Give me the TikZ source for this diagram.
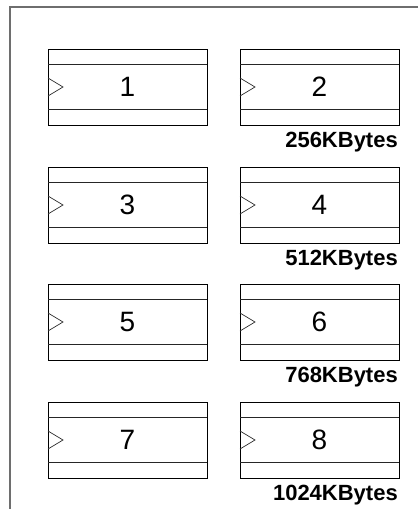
\documentclass[tikz,border=0pt]{standalone}
\usepackage{fontspec}
\setmainfont{Liberation Sans}
\begin{document}
\begin{tikzpicture}[x=1pt,y=-1pt,
  outer/.style={draw=black,line width=1pt},
  inner/.style={draw=black!85,line width=0.9pt},
  clk/.style={draw=black!80,line width=0.7pt},
  frame/.style={draw={rgb,255:red,110;green,110;blue,110},line width=1.3pt},
  num/.style={font=\fontsize{28}{30}\selectfont,inner sep=0pt},
  size/.style={font=\fontsize{22}{24}\selectfont\bfseries,inner sep=0pt,anchor=base east}]
\useasboundingbox (0,0) rectangle (418,509);
\coordinate (ftl) at (10,7);
\coordinate (ftr) at (418,7);
\coordinate (fbl) at (10,509);
\draw[frame] (ftr) -- (ftl) -- (fbl);
\foreach \r/\top/\a/\b/\lab in {1/49/1/2/256KBytes,2/167/3/4/512KBytes,3/284/5/6/768KBytes,4/402/7/8/1024KBytes}{
  \foreach \c/\x/\n in {L/48/\a,R/240/\b}{
    \draw[outer] (\x,\top) rectangle ++(159,76);
    \draw[inner] (\x,\top+15) -- ++(159,0);
    \draw[inner] (\x,\top+60) -- ++(159,0);
    \draw[clk] (\x,\top+29) -- (\x+15,\top+38) -- (\x,\top+47);
    \node[num] (n\n) at (\x+79.5,\top+38) {\n};
  }
  \node[size] (s\r) at (398,\top+98) {\lab};
}
\end{tikzpicture}
\end{document}
